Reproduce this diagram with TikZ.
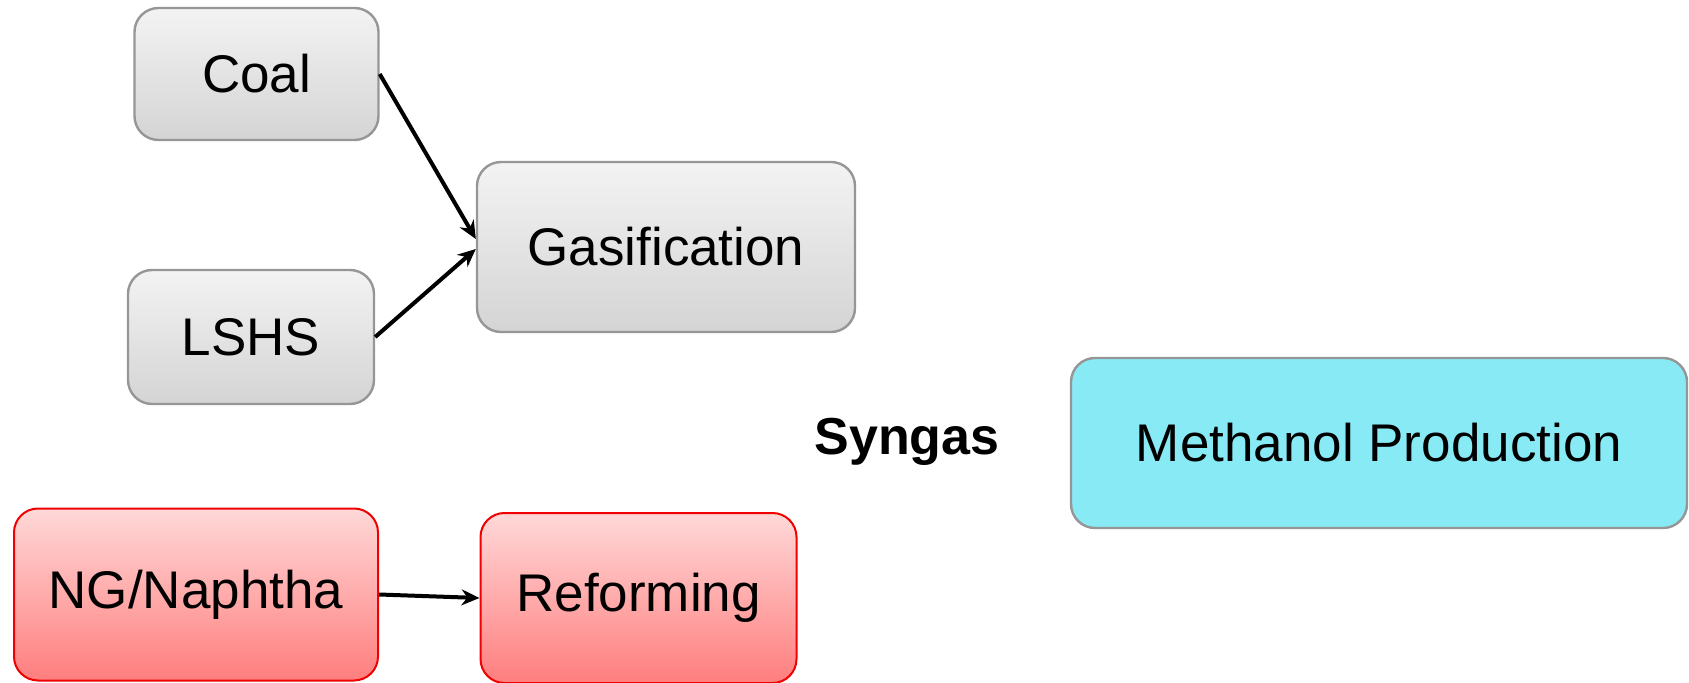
\documentclass[tikz,border=0pt]{standalone}
\usepackage{fontspec}
\setmainfont{Liberation Sans}
\usetikzlibrary{arrows.meta}

\definecolor{boxline}{RGB}{150,150,150}
\definecolor{greytop}{RGB}{243,243,243}
\definecolor{greybot}{RGB}{212,212,212}
\definecolor{redtop}{RGB}{255,216,216}
\definecolor{redbot}{RGB}{255,126,126}
\definecolor{redline}{RGB}{240,0,0}
\definecolor{methfill}{RGB}{136,234,245}

\tikzset{
  procbox/.style={draw=boxline, line width=1.2pt, rounded corners=12pt,
    align=center, inner sep=0pt, font=\fontsize{26.5}{30}\selectfont},
  greybox/.style={procbox, top color=greytop, bottom color=greybot},
  redbox/.style={procbox, draw=redline, line width=1pt, top color=redtop, bottom color=redbot},
  methbox/.style={procbox, fill=methfill},
  flow/.style={-{Stealth[length=9pt,width=8pt]}, line width=2pt, black}
}

\begin{document}
\begin{tikzpicture}[x=0.5pt,y=-0.5pt]
\useasboundingbox (0,0) rectangle (1689,683);

% feedstocks
\node[greybox, minimum width=122pt, minimum height=66pt] (coal) at (256.5,74) {Coal};
\node[greybox, minimum width=123pt, minimum height=67pt] (lshs) at (251,337) {LSHS};
\node[redbox, minimum width=182pt, minimum height=86pt] (ng) at (196,594.5) {NG/Naphtha};

% conversion steps
\node[greybox, minimum width=189pt, minimum height=85pt] (gasif) at (666,247) {Gasification};
\node[redbox, minimum width=158pt, minimum height=85pt] (reform) at (638.5,598) {Reforming};

% syngas to methanol
\node[font=\fontsize{26}{30}\selectfont\bfseries] (syngas) at (907,442) {Syngas};
\node[methbox, minimum width=308pt, minimum height=85pt] (meth) at (1379,443) {Methanol Production};

\draw[flow] (coal.east) -- ([yshift=4pt]gasif.west);
\draw[flow] (lshs.east) -- ([yshift=-1pt]gasif.west);
\draw[flow] (ng.east) -- (reform.west);
\end{tikzpicture}
\end{document}
